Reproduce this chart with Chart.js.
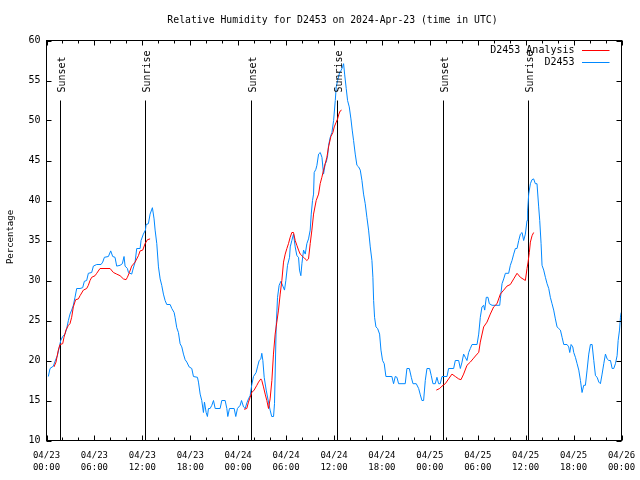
<!DOCTYPE html>
<html><head><meta charset="utf-8">
<script src="https://cdn.jsdelivr.net/npm/chart.js@4"></script>
<style>html,body{margin:0;padding:0;background:#fff}canvas{display:block}</style>
</head><body>
<canvas id="c" width="640" height="480"></canvas>
<script>
// ---------- data ----------
const titleText = "Relative Humidity for D2453 on 2024-Apr-23 (time in UTC)";
const yAxisTitle = "Percentage";
const seriesNames = ["D2453 Analysis", "D2453"];
const xTickLabels = [
  ["04/23","00:00"],["04/23","06:00"],["04/23","12:00"],["04/23","18:00"],
  ["04/24","00:00"],["04/24","06:00"],["04/24","12:00"],["04/24","18:00"],
  ["04/25","00:00"],["04/25","06:00"],["04/25","12:00"],["04/25","18:00"],
  ["04/26","00:00"]
];
// hours since 04/23 00:00 UTC
const obsHours = [0.23,0.44,0.86,1.07,1.36,1.61,1.78,2.03,2.32,2.53,2.74,2.94,3.15,3.36,3.57,3.78,4.20,4.53,4.74,5.03,5.24,5.66,5.87,6.29,6.83,7.04,7.25,7.75,8.04,8.29,8.58,8.79,9.21,9.50,9.71,9.84,10.13,10.26,10.67,10.80,11.09,11.30,11.72,11.84,12.13,12.39,12.47,12.76,12.97,13.26,13.47,13.60,13.81,14.02,14.23,14.43,14.64,14.85,15.06,15.48,15.69,15.98,16.10,16.31,16.52,16.73,16.94,17.15,17.36,17.57,17.86,18.19,18.40,18.90,19.03,19.24,19.44,19.65,19.78,19.99,20.15,20.28,20.49,20.70,20.91,21.12,21.74,21.95,22.37,22.58,22.70,22.91,23.50,23.70,23.91,24.25,24.42,24.67,24.88,25.09,25.29,25.50,25.71,25.92,26.25,26.42,26.63,26.84,26.96,27.09,27.26,27.51,27.80,28.00,28.20,28.43,28.55,28.76,28.93,29.13,29.35,29.60,29.80,29.97,30.18,30.43,30.52,30.72,30.93,31.14,31.35,31.56,31.68,31.85,31.98,32.19,32.40,32.60,32.81,33.02,33.15,33.31,33.44,33.52,33.73,33.86,34.07,34.28,34.49,34.69,34.90,35.03,35.20,35.32,35.53,35.74,35.95,36.16,36.28,36.45,36.70,36.91,37.07,37.20,37.33,37.53,37.70,37.91,38.12,38.28,38.45,38.66,38.87,39.08,39.29,39.50,39.70,39.91,40.12,40.33,40.54,40.75,40.87,40.96,41.08,41.25,41.46,41.71,41.88,42.08,42.29,42.50,43.25,43.46,43.67,43.88,44.09,44.92,45.13,45.43,45.68,45.89,46.30,46.60,46.81,47.01,47.22,47.43,47.64,47.97,48.18,48.39,48.68,48.89,49.10,49.31,49.52,50.15,50.35,50.98,51.19,51.61,51.82,52.03,52.23,52.44,52.65,52.86,53.07,53.28,53.91,54.12,54.32,54.53,54.74,54.87,55.07,55.28,55.45,55.79,56.75,56.83,57.04,57.25,57.46,57.87,58.08,58.29,58.50,58.71,58.92,59.13,59.34,59.55,59.75,59.96,60.17,60.25,60.38,60.59,60.79,61.00,61.21,61.42,61.63,61.76,61.93,62.05,62.26,62.47,62.68,62.89,63.09,63.30,63.51,63.72,63.93,64.14,64.35,64.56,64.77,65.18,65.39,65.52,65.69,65.90,66.02,66.23,66.44,66.65,66.86,67.06,67.27,67.48,67.69,67.90,68.11,68.32,68.53,68.74,68.95,69.16,69.36,69.57,69.78,69.99,70.20,70.41,70.62,70.83,71.03,71.24,71.45,71.58,71.75,71.87,71.96];
const obsValues = [18.0,19.0,19.3,19.9,20.6,21.7,22.5,23.0,23.3,24.0,25.0,25.8,26.3,26.9,27.9,29.0,29.0,29.1,29.9,30.0,30.9,31.0,31.8,32.0,32.0,32.3,32.9,33.0,33.7,33.0,32.9,31.8,31.9,32.1,33.0,31.8,31.5,31.0,30.8,31.3,32.3,34.0,34.0,35.0,35.8,36.3,37.0,37.1,38.3,39.1,37.7,36.3,34.6,31.7,30.2,29.4,28.3,27.5,27.0,27.0,26.5,26.0,25.4,24.1,23.5,22.1,21.7,20.8,20.1,19.8,19.2,19.0,18.0,17.9,17.3,15.8,15.0,13.5,14.8,13.5,13.0,14.0,14.0,14.4,15.0,14.0,14.0,15.0,15.0,14.0,13.0,14.0,14.0,13.0,14.0,14.4,15.0,14.2,14.0,14.7,15.2,15.6,17.0,18.0,18.5,19.2,20.0,20.2,20.9,20.0,17.9,16.3,14.8,13.8,13.0,13.0,14.6,24.2,27.9,29.4,29.9,29.3,28.8,30.0,31.9,32.9,34.2,35.0,35.8,34.2,33.1,32.9,31.3,30.6,32.1,33.8,33.3,34.6,35.2,36.3,38.3,40.0,40.8,43.5,43.9,44.4,45.8,46.0,45.4,43.3,44.6,44.8,45.6,46.9,47.9,48.5,50.0,52.5,54.2,55.0,56.0,56.3,56.7,57.1,55.8,54.0,52.5,51.7,50.2,48.8,47.5,45.8,44.4,44.2,43.8,42.5,40.8,39.6,37.9,36.3,34.2,32.5,30.4,27.5,25.4,24.2,24.0,23.3,21.3,20.0,19.6,18.0,18.0,17.1,18.0,17.9,17.1,17.1,19.0,19.0,17.9,17.1,17.1,16.5,15.7,15.0,15.0,17.5,19.0,19.0,18.1,17.1,17.1,17.9,17.1,17.1,18.0,18.0,19.0,19.0,20.0,20.0,19.0,19.8,20.8,20.4,20.0,21.0,21.5,22.0,22.0,23.3,25.4,26.7,26.9,26.3,27.9,27.9,27.1,26.9,26.9,27.7,29.6,30.2,30.9,30.9,31.9,32.5,33.3,34.0,34.0,35.0,35.8,36.0,35.0,35.8,37.5,38.8,40.8,42.1,42.6,42.7,42.1,42.1,39.2,37.5,34.6,31.9,31.3,30.4,29.6,29.0,27.9,27.1,26.3,25.2,24.2,24.0,23.8,22.9,22.0,22.0,21.7,21.0,22.0,21.7,21.0,20.4,19.6,18.8,17.5,16.0,16.9,16.9,18.8,20.8,22.0,22.0,20.0,18.1,17.9,17.3,17.1,18.3,19.6,20.8,20.2,20.0,20.0,19.0,19.0,19.6,20.6,22.5,23.8,25.4,26.0];
// analysis: null values break the line between runs
const anaHours = [0.94,1.19,1.48,1.69,2.03,2.19,2.44,2.74,2.94,3.15,3.36,3.65,3.99,4.20,4.62,5.03,5.24,5.45,5.66,6.08,6.29,6.70,7.96,8.38,8.79,9.21,9.63,9.96,10.13,10.38,10.67,11.09,11.51,11.72,12.05,12.34,12.64,12.97,
  18.0,
  24.75,25.08,25.29,25.50,25.71,26.00,26.34,26.55,26.84,26.96,27.17,27.38,27.59,27.80,28.00,28.22,28.42,28.63,28.84,29.05,29.26,29.47,29.68,29.89,30.10,30.30,30.51,30.72,30.93,31.14,31.35,31.56,31.77,31.98,32.19,32.39,32.60,32.81,33.02,33.23,33.44,33.77,34.07,34.27,34.48,34.69,34.90,35.11,35.32,35.61,35.86,36.03,36.28,36.45,36.61,36.78,36.95,
  43.0,
  48.81,49.23,49.52,49.94,50.35,50.77,51.19,51.61,51.90,52.23,52.65,53.07,53.49,53.91,54.12,54.32,54.74,55.16,55.57,55.99,56.41,56.83,57.25,57.66,58.08,58.50,58.92,59.34,59.96,60.17,60.30,60.46,60.59,60.80,61.00];
const anaValues = [19.2,19.8,21.3,22.0,22.1,22.9,23.8,24.4,24.6,25.4,26.7,27.6,27.7,28.1,28.8,29.0,29.4,30.0,30.4,30.6,30.9,31.5,31.5,31.0,30.8,30.6,30.2,30.1,30.4,31.0,31.8,32.3,33.1,33.7,33.8,34.6,35.1,35.2,
  null,
  13.9,14.0,14.8,15.4,16.0,16.3,16.9,17.3,17.7,17.5,16.7,15.8,15.0,14.0,15.2,17.5,20.8,23.3,24.8,26.3,28.3,30.0,32.3,33.3,34.0,34.6,35.4,36.0,36.0,35.0,34.4,33.8,33.3,33.1,32.9,32.7,32.5,32.7,34.6,36.3,38.3,40.0,40.8,42.1,42.9,43.8,44.6,45.4,46.7,48.0,48.5,49.2,49.8,50.2,50.8,51.2,51.3,
  null,
  16.3,16.5,16.8,17.1,17.7,18.3,18.0,17.7,17.6,18.3,19.4,19.8,20.3,20.8,21.0,22.3,24.2,24.8,25.8,26.7,27.1,28.3,28.8,29.3,29.5,30.2,30.9,30.4,30.0,31.5,32.3,33.5,34.8,35.6,36.0];
const eventHours = [1.63, 12.33, 25.62, 36.36, 49.64, 60.29];
const eventLabels = ["Sunset","Sunrise","Sunset","Sunrise","Sunset","Sunrise"];
const eventTop = 52.5;

// ---------- styles ----------
const MONO = '"DejaVu Sans Mono", "Liberation Mono", monospace';
const RED = '#ff0000', BLUE = '#0088ff';

const toPts = (xs, ys) => xs.map((x, i) => ({x, y: ys[i]}));

const decor = {
  id: 'decor',
  beforeDatasetsDraw(chart) {
    const {ctx, scales: {x, y}} = chart;
    ctx.save();
    ctx.strokeStyle = '#000'; ctx.lineWidth = 1;
    eventHours.forEach((h) => {
      const px = Math.round(x.getPixelForValue(h)) + 0.5;
      ctx.beginPath();
      ctx.moveTo(px, y.getPixelForValue(eventTop));
      ctx.lineTo(px, y.getPixelForValue(10));
      ctx.stroke();
    });
    ctx.restore();
  },
  afterDatasetsDraw(chart) {
    const {ctx, chartArea: a, scales: {x, y}} = chart;
    ctx.save();
    ctx.strokeStyle = '#000'; ctx.lineWidth = 1;
    // frame
    ctx.strokeRect(a.left, a.top, a.right - a.left, a.bottom - a.top);
    // x ticks (major every 6h, minor every 2h), mirrored
    ctx.beginPath();
    for (let h = 0; h <= 72; h += 2) {
      const px = Math.round(x.getPixelForValue(h)) + 0.5;
      const len = (h % 6 === 0) ? 5 : 3;
      ctx.moveTo(px, a.bottom); ctx.lineTo(px, a.bottom - len);
      ctx.moveTo(px, a.top); ctx.lineTo(px, a.top + len);
    }
    for (let v = 10; v <= 60; v += 5) {
      const py = Math.round(y.getPixelForValue(v)) + 0.5;
      ctx.moveTo(a.left, py); ctx.lineTo(a.left + 5, py);
      ctx.moveTo(a.right, py); ctx.lineTo(a.right - 5, py);
    }
    ctx.stroke();
    // event labels
    ctx.fillStyle = '#000';
    ctx.font = '10px ' + MONO;
    ctx.textAlign = 'left'; ctx.textBaseline = 'alphabetic';
    eventHours.forEach((h, i) => {
      const px = Math.round(x.getPixelForValue(h)) + 0.5;
      ctx.save();
      ctx.translate(px + 4.5, y.getPixelForValue(eventTop) - 8);
      ctx.rotate(-Math.PI / 2);
      ctx.fillText(eventLabels[i], 0, 0);
      ctx.restore();
    });
    // title
    ctx.font = '9.8px ' + MONO;
    ctx.textAlign = 'center'; ctx.textBaseline = 'middle';
    ctx.fillText(titleText, 332.5, 20.5);
    // y axis title
    ctx.save();
    ctx.font = '9px ' + MONO;
    ctx.translate(10.5, 237);
    ctx.rotate(-Math.PI / 2);
    ctx.fillText(yAxisTitle, 0, 0);
    ctx.restore();
    // legend
    ctx.font = '10px ' + MONO;
    ctx.textAlign = 'right'; ctx.textBaseline = 'middle';
    const cols = [RED, BLUE];
    seriesNames.forEach((n, i) => {
      const ly = 50.5 + i * 12;
      ctx.fillStyle = '#000';
      ctx.fillText(n, 574.5, ly);
      ctx.strokeStyle = cols[i];
      ctx.beginPath(); ctx.moveTo(582, ly); ctx.lineTo(609.5, ly); ctx.stroke();
    });
    ctx.restore();
  }
};

new Chart(document.getElementById('c'), {
  type: 'line',
  data: {
    datasets: [
      { label: seriesNames[0], data: toPts(anaHours, anaValues), borderColor: RED, borderWidth: 1,
        pointRadius: 0, spanGaps: false, tension: 0, fill: false },
      { label: seriesNames[1], data: toPts(obsHours, obsValues), borderColor: BLUE, borderWidth: 1,
        pointRadius: 0, tension: 0, fill: false }
    ]
  },
  options: {
    responsive: false, animation: false, devicePixelRatio: 1,
    layout: { padding: { left: 0, right: 18.5, top: 40.5, bottom: 0 } },
    plugins: { legend: { display: false }, title: { display: false }, tooltip: { enabled: false } },
    scales: {
      x: {
        type: 'linear', min: 0, max: 72,
        afterFit: (s) => { s.height = 39.5; s.paddingLeft = 0; s.paddingRight = 0; },
        grid: { display: false, drawTicks: false },
        border: { display: false },
        ticks: {
          stepSize: 6, autoSkip: false, maxRotation: 0, minRotation: 0, padding: 9,
          color: '#000', font: { family: MONO, size: 9, lineHeight: 1.3333 },
          callback: (v) => xTickLabels[Math.round(v / 6)]
        }
      },
      y: {
        type: 'linear', min: 10, max: 60,
        afterFit: (s) => { s.width = 46.5; s.paddingTop = 0; s.paddingBottom = 0; },
        grid: { display: false, drawTicks: false },
        border: { display: false },
        ticks: { stepSize: 5, padding: 6, color: '#000', font: { family: MONO, size: 10 } }
      }
    }
  },
  plugins: [decor]
});
</script>
</body></html>
